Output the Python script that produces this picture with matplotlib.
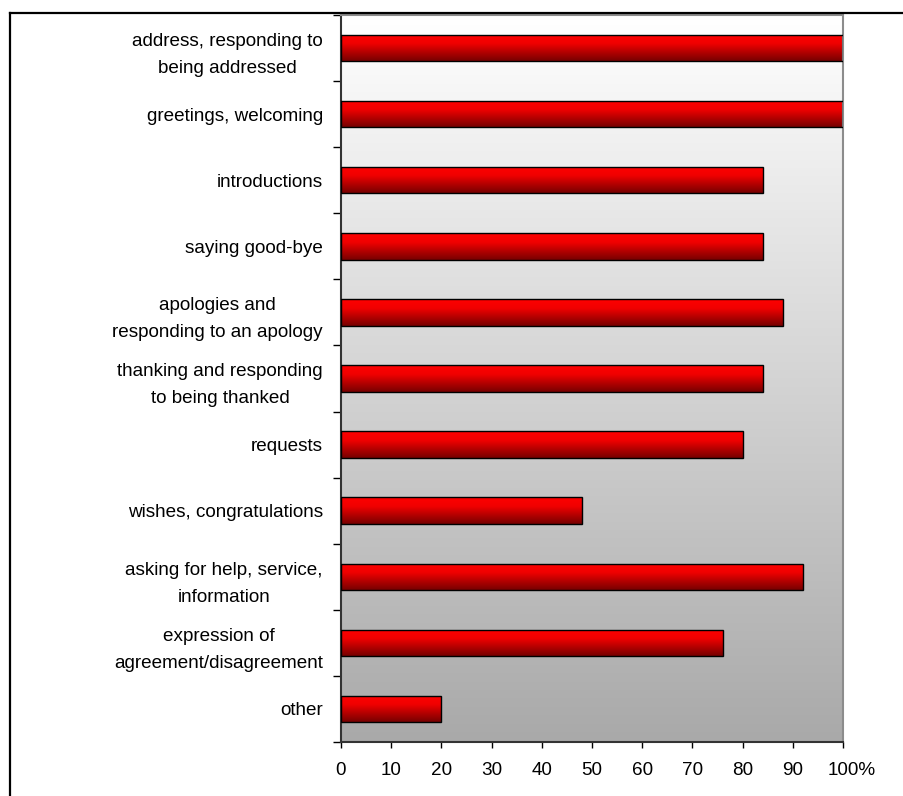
import numpy as np
import matplotlib
matplotlib.use("Agg")
import matplotlib.pyplot as plt
import matplotlib.transforms as mtransforms
from matplotlib.colors import LinearSegmentedColormap
from matplotlib.lines import Line2D

plt.rcParams['font.family'] = ['Liberation Sans', 'DejaVu Sans']

# data, top to bottom
categories = [
    "address, responding to\nbeing addressed",
    "greetings, welcoming",
    "introductions",
    "saying good-bye",
    "apologies and\nresponding to an apology",
    "thanking and responding\nto being thanked",
    "requests",
    "wishes, congratulations",
    "asking for help, service,\ninformation",
    "expression of\nagreement/disagreement",
    "other",
]
values = [100, 100, 84, 84, 88, 84, 80, 48, 92, 76, 20]
xticks = [0, 10, 20, 30, 40, 50, 60, 70, 80, 90, 100]
xticklabels = ["0", "10", "20", "30", "40", "50", "60", "70", "80", "90", "100%"]

fig = plt.figure(figsize=(9.04, 7.96), dpi=100)
ax = fig.add_axes([341/904, 54/796, 502/904, 727/796])

n = len(categories)
ypos = np.arange(n)

# gray background gradient (white at top -> gray at bottom)
bg_cmap = LinearSegmentedColormap.from_list("bg", ["#ffffff", "#a9a9a9"])
grad = np.linspace(0, 1, 256).reshape(-1, 1)
ax.imshow(grad, cmap=bg_cmap, aspect="auto", extent=[0, 100, n - 0.5, -0.5],
          zorder=0, interpolation="bicubic")

bars = ax.barh(ypos, values, height=0.4, color="none", edgecolor="black",
               linewidth=1.0, zorder=3)

# red gradient inside each bar
bar_cmap = LinearSegmentedColormap.from_list(
    "bar", [(0, "#ff0000"), (0.35, "#f00000"), (1, "#760000")])
for b in bars:
    x0, y0 = b.get_x(), b.get_y()
    w, h = b.get_width(), b.get_height()
    im = ax.imshow(grad, cmap=bar_cmap, aspect="auto",
                   extent=[x0, x0 + w, y0 + h, y0], zorder=2,
                   interpolation="bicubic")
    im.set_clip_path(b)

ax.set_xlim(0, 100)
ax.set_ylim(n - 0.5, -0.5)

ax.set_yticks(ypos)
ax.set_yticklabels(categories, fontsize=13.6, linespacing=1.75,
                   ha="right", multialignment="center")
ax.tick_params(axis="y", which="major", length=0, pad=13)
ax.set_yticks(np.arange(-0.5, n, 1), minor=True)
ax.tick_params(axis="y", which="minor", length=5.8, width=1, color="black")

ax.set_xticks(xticks)
ax.set_xticklabels(xticklabels, fontsize=13.6)
ax.tick_params(axis="x", length=4.3, width=1, color="black", pad=10)
# the number is centred on the tick, the % sign hangs to the right
last = ax.get_xticklabels()[-1]
last.set_transform(last.get_transform() +
                   mtransforms.ScaledTranslation(6 / 72, 0, fig.dpi_scale_trans))

for s in ["top", "right"]:
    ax.spines[s].set_color("#8c8c8c")
    ax.spines[s].set_linewidth(1.5)
for s in ["left", "bottom"]:
    ax.spines[s].set_color("#333333")
    ax.spines[s].set_linewidth(1.5)

# outer chart frame (top and left edges)
fig.add_artist(Line2D([9.5/904, 1], [1 - 13/796, 1 - 13/796],
                      transform=fig.transFigure, color="black", lw=1.6))
fig.add_artist(Line2D([9.5/904, 9.5/904], [0, 1 - 13/796],
                      transform=fig.transFigure, color="black", lw=1.6))

fig.savefig("out.png", dpi=100)
